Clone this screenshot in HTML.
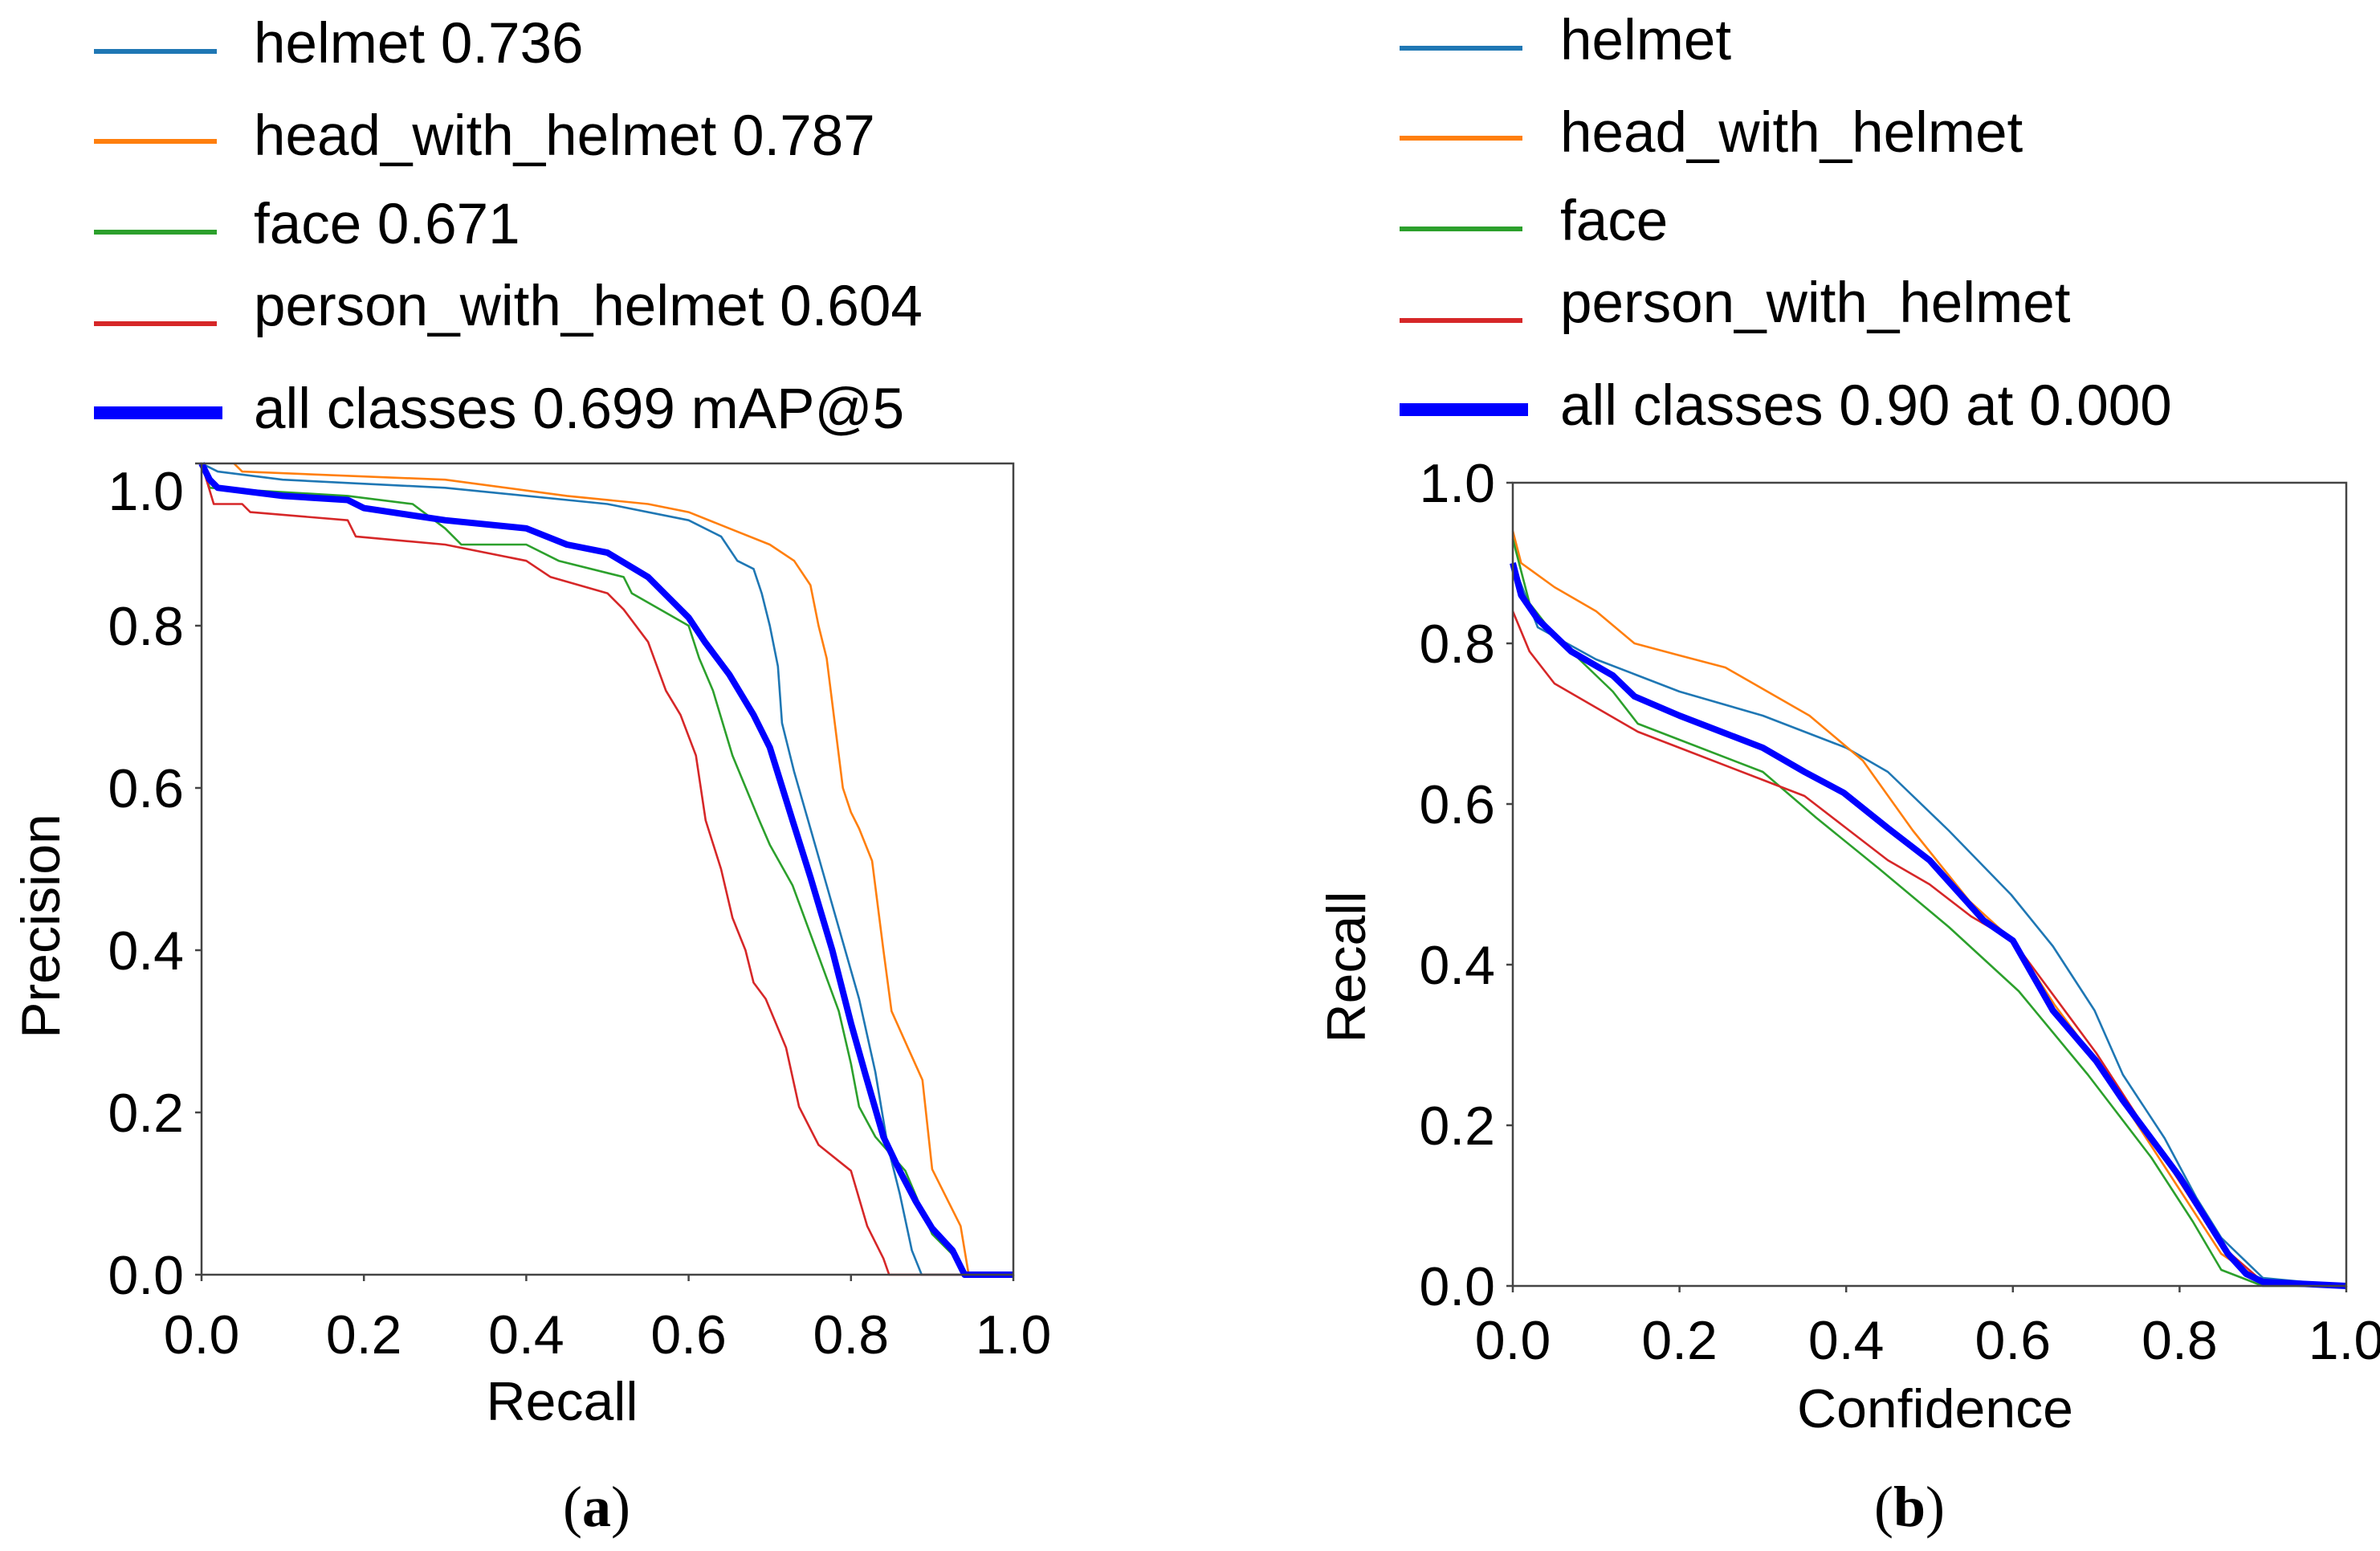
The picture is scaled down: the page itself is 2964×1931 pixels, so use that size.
<!DOCTYPE html>
<html><head><meta charset="utf-8"><style>
html,body{margin:0;padding:0;background:#fff;}
svg{display:block;font-family:"Liberation Sans",sans-serif;}
</style></head><body>
<svg id="fig" width="2964" height="1931" viewBox="0 0 2964 1931" xmlns="http://www.w3.org/2000/svg"></svg>
<script>
// ---- data ----
const seriesNames = ["helmet","head_with_helmet","face","person_with_helmet","all classes"];
const prLabels = ["helmet 0.736","head_with_helmet 0.787","face 0.671","person_with_helmet 0.604","all classes 0.699 mAP@5"];
const rcLabels = ["helmet","head_with_helmet","face","person_with_helmet","all classes 0.90 at 0.000"];
const tickValues = [0,0.2,0.4,0.6,0.8,1.0];
const tickLabels = ["0.0","0.2","0.4","0.6","0.8","1.0"];
// PR curves: recall (x), precision (y)
const prHelmetX = [0,0.02,0.1,0.3,0.5,0.6,0.64,0.66,0.68,0.69,0.7,0.71,0.715,0.73,0.75,0.77,0.79,0.81,0.83,0.845,0.86,0.875,0.887,1.0];
const prHelmetY = [1.0,0.99,0.98,0.97,0.95,0.93,0.91,0.88,0.87,0.84,0.8,0.75,0.68,0.62,0.55,0.48,0.41,0.34,0.25,0.16,0.1,0.03,0,0];
const prHeadX = [0.04,0.05,0.3,0.45,0.55,0.6,0.65,0.7,0.73,0.75,0.76,0.77,0.78,0.79,0.8,0.81,0.826,0.84,0.85,0.87,0.888,0.9,0.92,0.935,0.945,1.0];
const prHeadY = [1.0,0.99,0.98,0.96,0.95,0.94,0.92,0.9,0.88,0.85,0.8,0.76,0.68,0.6,0.57,0.55,0.51,0.4,0.325,0.28,0.24,0.13,0.09,0.06,0,0];
const prFaceX = [0,0.01,0.18,0.26,0.3,0.32,0.4,0.44,0.52,0.53,0.6,0.613,0.63,0.654,0.687,0.7,0.728,0.75,0.785,0.8,0.81,0.83,0.867,0.9,0.93,0.94,1.0];
const prFaceY = [1.0,0.97,0.96,0.95,0.92,0.9,0.9,0.88,0.86,0.84,0.8,0.76,0.72,0.64,0.56,0.53,0.48,0.42,0.325,0.26,0.207,0.17,0.128,0.05,0.02,0,0];
const prPersonX = [0,0.015,0.05,0.06,0.18,0.19,0.3,0.4,0.43,0.5,0.52,0.55,0.572,0.59,0.609,0.621,0.64,0.654,0.67,0.68,0.695,0.72,0.736,0.76,0.8,0.82,0.84,0.847,1.0];
const prPersonY = [1.0,0.95,0.95,0.94,0.93,0.91,0.9,0.88,0.86,0.84,0.82,0.78,0.72,0.69,0.64,0.56,0.5,0.44,0.4,0.36,0.34,0.28,0.207,0.16,0.128,0.06,0.02,0,0];
const prAllX = [0,0.01,0.02,0.1,0.18,0.2,0.3,0.4,0.45,0.5,0.55,0.6,0.62,0.65,0.68,0.7,0.728,0.75,0.777,0.8,0.818,0.84,0.86,0.88,0.9,0.925,0.94,1.0];
const prAllY = [1.0,0.98,0.97,0.96,0.955,0.945,0.93,0.92,0.9,0.89,0.86,0.81,0.78,0.74,0.69,0.65,0.56,0.49,0.40,0.31,0.246,0.17,0.128,0.09,0.057,0.03,0,0];
// Recall-confidence curves: confidence (x), recall (y)
const rcHelmetX = [0,0.03,0.1,0.15,0.2,0.3,0.4,0.45,0.523,0.598,0.648,0.698,0.732,0.782,0.82,0.85,0.9,1.0];
const rcHelmetY = [0.9,0.82,0.78,0.76,0.74,0.71,0.67,0.64,0.567,0.487,0.423,0.343,0.263,0.184,0.11,0.06,0.01,0];
const rcHeadX = [0,0.01,0.05,0.1,0.146,0.2,0.255,0.356,0.42,0.48,0.548,0.6,0.65,0.7,0.75,0.8,0.85,0.9,1.0];
const rcHeadY = [0.94,0.9,0.87,0.84,0.8,0.785,0.77,0.71,0.654,0.567,0.479,0.43,0.35,0.28,0.2,0.12,0.04,0.005,0];
const rcFaceX = [0,0.02,0.05,0.08,0.12,0.15,0.2,0.3,0.364,0.44,0.523,0.607,0.69,0.766,0.816,0.85,0.9,1.0];
const rcFaceY = [0.93,0.85,0.81,0.78,0.74,0.7,0.68,0.64,0.583,0.519,0.447,0.367,0.263,0.16,0.08,0.02,0,0];
const rcPersonX = [0,0.02,0.05,0.1,0.15,0.2,0.3,0.35,0.4,0.45,0.5,0.55,0.6,0.65,0.7,0.75,0.8,0.85,0.9,1.0];
const rcPersonY = [0.84,0.79,0.75,0.72,0.69,0.67,0.63,0.61,0.57,0.53,0.5,0.46,0.43,0.36,0.29,0.21,0.13,0.05,0.005,0];
const rcAllX = [0,0.01,0.03,0.07,0.12,0.146,0.2,0.25,0.3,0.35,0.397,0.45,0.5,0.565,0.6,0.648,0.7,0.732,0.8,0.858,0.88,0.9,1.0];
const rcAllY = [0.9,0.86,0.83,0.79,0.76,0.734,0.71,0.69,0.67,0.64,0.614,0.57,0.53,0.455,0.43,0.343,0.28,0.231,0.136,0.04,0.015,0.005,0];

const colors = ["#1f77b4","#ff7f0e","#2ca02c","#d62728","#0000ff"];
const NS = "http://www.w3.org/2000/svg";
const svg = document.getElementById("fig");
function mk(tag, attrs, parent){
  const e = document.createElementNS(NS, tag);
  for (const k in attrs) e.setAttribute(k, attrs[k]);
  (parent||svg).appendChild(e);
  return e;
}
function panel(cfg){
  const g = mk("g",{});
  
  
  const sx = v => cfg.x0 + v*(cfg.x1-cfg.x0);
  const sy = v => cfg.y1 - v*(cfg.y1-cfg.y0);
  cfg.series.forEach((s,i)=>{
    const d = s[0].map((xv,j)=>(j?"L":"M")+sx(xv).toFixed(1)+","+sy(s[1][j]).toFixed(1)).join(" ");
    const p = mk("path",{d:d,fill:"none",stroke:colors[i],"stroke-width":i===4?8:2.6,"stroke-linejoin":"round"},g);
    
    
  });
  const fr = mk("rect",{x:cfg.x0,y:cfg.y0,width:cfg.x1-cfg.x0,height:cfg.y1-cfg.y0,fill:"none",stroke:"#444","stroke-width":2.5},g);
  
  
  tickValues.forEach((v,i)=>{
    mk("line",{x1:sx(v),x2:sx(v),y1:cfg.y1,y2:cfg.y1+8,stroke:"#444","stroke-width":2.5},g);
    mk("line",{x1:cfg.x0-8,x2:cfg.x0,y1:sy(v),y2:sy(v),stroke:"#444","stroke-width":2.5},g);
    const tx = mk("text",{x:sx(v),y:cfg.xtickY,"font-size":68,"text-anchor":"middle",fill:"#000"},g);
    tx.textContent = tickLabels[i];
    
    
    let yy = sy(v)+24;
    if (v===1 && cfg.clipTop) yy = sy(v)+58;
    const ty = mk("text",{x:cfg.ytickX,y:yy,"font-size":68,"text-anchor":"end",fill:"#000"},g);
    ty.textContent = tickLabels[i];
    
    
  });
  const xt = mk("text",{x:cfg.xtitle[0],y:cfg.xtitle[1],"font-size":68,"text-anchor":"middle",fill:"#000"},g);
  xt.textContent = cfg.xlabel;
  
  
  const yt = mk("text",{x:0,y:0,"font-size":68,"text-anchor":"middle",fill:"#000",transform:"translate("+cfg.ytitle[0]+","+cfg.ytitle[1]+") rotate(-90)"},g);
  yt.textContent = cfg.ylabel;
  
  
  const lineYs = [64,176,289,403,514], textYs = [78,193,303,405,533];
  cfg.labels.forEach((lab,i)=>{
    const le = mk("g",{},g);
    
    
    mk("line",{x1:cfg.legX,x2:cfg.legX+(i===4?160:153),y1:lineYs[i]+cfg.legDy,y2:lineYs[i]+cfg.legDy,stroke:colors[i],"stroke-width":i===4?16:6},le);
    const t = mk("text",{x:cfg.legTX,y:textYs[i]+cfg.legDy,"font-size":71,fill:"#000"},le);
    t.textContent = lab;
  });
  const cap = mk("text",{x:cfg.cap[0],y:cfg.cap[1],"font-size":72,"text-anchor":"middle",fill:"#000","font-family":"Liberation Serif, serif"},g);
  cap.innerHTML = '(<tspan font-weight="bold">'+cfg.capLetter+'</tspan>)';
  
  
}
panel({name:"precision-recall-chart",x0:251,x1:1262,y0:577,y1:1587,xtickY:1685,ytickX:229,clipTop:true,
  xlabel:"Recall",ylabel:"Precision",xtitle:[700,1768],ytitle:[74,1153],
  series:[[prHelmetX,prHelmetY],[prHeadX,prHeadY],[prFaceX,prFaceY],[prPersonX,prPersonY],[prAllX,prAllY]],
  labels:prLabels,legX:117,legTX:316,legDy:0,cap:[743,1900],capLetter:"a"});
panel({name:"recall-confidence-chart",x0:1884,x1:2922,y0:601,y1:1601,xtickY:1692,ytickX:1862,clipTop:false,
  xlabel:"Confidence",ylabel:"Recall",xtitle:[2410,1777],ytitle:[1700,1204],
  series:[[rcHelmetX,rcHelmetY],[rcHeadX,rcHeadY],[rcFaceX,rcFaceY],[rcPersonX,rcPersonY],[rcAllX,rcAllY]],
  labels:rcLabels,legX:1743,legTX:1943,legDy:-4,cap:[2378,1900],capLetter:"b"});
</script>
</body></html>
